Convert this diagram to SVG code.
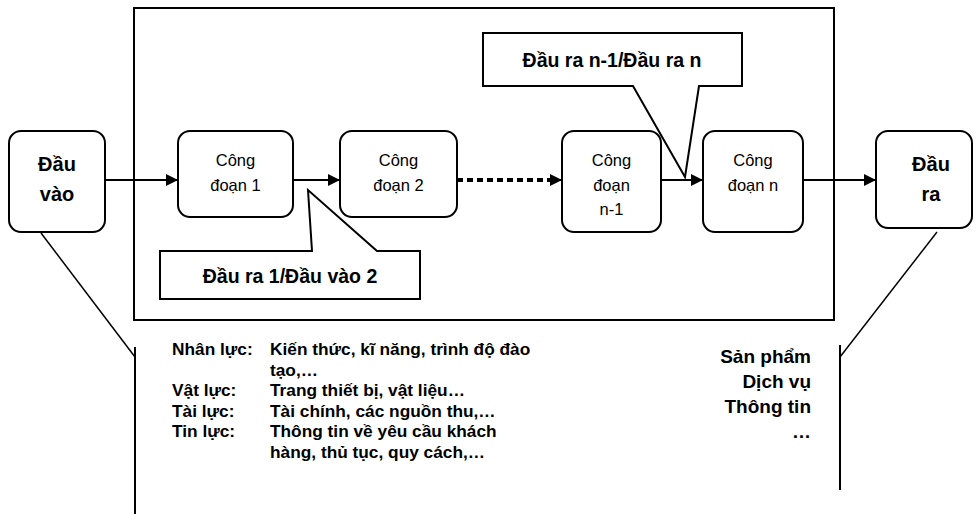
<svg xmlns="http://www.w3.org/2000/svg" width="976" height="514" viewBox="0 0 976 514">
<defs>
<marker id="ah" viewBox="0 0 12 12" refX="12" refY="6" markerWidth="12" markerHeight="12" markerUnits="userSpaceOnUse" orient="auto">
<path d="M0,0 L12,6 L0,12 Z" fill="#000"/>
</marker>
<style>
.box{fill:#fff;stroke:#000;stroke-width:2}
.frame{fill:none;stroke:#000;stroke-width:2}
.ln{fill:none;stroke:#000;stroke-width:2}
.thin{fill:none;stroke:#000;stroke-width:1.5}
.t{font-family:"Liberation Sans",Arial,sans-serif;fill:#000}
.big{font-size:20px;font-weight:bold;text-anchor:middle}
.step{font-size:16.5px;text-anchor:middle}
.call{font-size:19.5px;font-weight:bold;text-anchor:middle}
.list{font-size:17.3px;font-weight:bold}
.out{font-size:19px;font-weight:bold;text-anchor:end}
</style>
</defs>
<rect id="frame" class="frame" x="134" y="8" width="700" height="312"/>
<g id="connectors">
<line class="ln" x1="105" y1="180" x2="178" y2="180" marker-end="url(#ah)"/>
<line class="ln" x1="293" y1="180" x2="340" y2="180" marker-end="url(#ah)"/>
<line x1="457" y1="180" x2="550" y2="180" stroke="#000" stroke-width="4" stroke-dasharray="6,4"/>
<line class="ln" x1="548" y1="180" x2="562" y2="180" marker-end="url(#ah)"/>
<line class="ln" x1="661" y1="180" x2="703" y2="180" marker-end="url(#ah)"/>
<line class="ln" x1="803" y1="180" x2="876" y2="180" marker-end="url(#ah)"/>
<polyline class="thin" points="41,233 135,357"/>
<line class="ln" x1="135" y1="347" x2="135" y2="514"/>
<polyline class="thin" points="937,232 840,357"/>
<line class="ln" x1="840" y1="345" x2="840" y2="490"/>
</g>
<g id="dau-vao">
<rect class="box" x="9" y="131" width="96" height="101" rx="12"/>
<text class="t big" x="57" y="171">Đầu</text>
<text class="t big" x="57" y="201">vào</text>
</g>
<g id="cong-doan-1">
<rect class="box" x="178" y="131" width="115" height="86" rx="12"/>
<text class="t step" x="235.5" y="166">Công</text>
<text class="t step" x="235.5" y="191">đoạn 1</text>
</g>
<g id="cong-doan-2">
<rect class="box" x="340" y="131" width="117" height="86" rx="12"/>
<text class="t step" x="398.5" y="166">Công</text>
<text class="t step" x="398.5" y="191">đoạn 2</text>
</g>
<g id="cong-doan-n-1">
<rect class="box" x="562" y="131" width="99" height="101" rx="12"/>
<text class="t step" x="611.5" y="166">Công</text>
<text class="t step" x="611.5" y="191">đoạn</text>
<text class="t step" x="611.5" y="215">n-1</text>
</g>
<g id="cong-doan-n">
<rect class="box" x="703" y="131" width="100" height="101" rx="12"/>
<text class="t step" x="753" y="166">Công</text>
<text class="t step" x="753" y="191">đoạn n</text>
</g>
<g id="dau-ra">
<rect class="box" x="876" y="131" width="96" height="97" rx="12"/>
<text class="t big" x="931" y="171">Đầu</text>
<text class="t big" x="931" y="201">ra</text>
</g>
<g id="callout-1">
<path class="box" d="M160,251 L312,251 L308,190 L377,251 L420,251 L420,299 L160,299 Z"/>
<text class="t call" x="290" y="283">Đầu ra 1/Đầu vào 2</text>
</g>
<g id="callout-2">
<path class="box" d="M483,33 L742,33 L742,86 L699,86 L685,177 L633,86 L483,86 Z"/>
<text class="t call" x="612" y="67">Đầu ra n-1/Đầu ra n</text>
</g>
<g id="inputs-list">
<text class="t list" x="172" y="355">Nhân lực:</text>
<text class="t list" x="270" y="355">Kiến thức, kĩ năng, trình độ đào</text>
<text class="t list" x="270" y="376">tạo,…</text>
<text class="t list" x="172" y="396">Vật lực:</text>
<text class="t list" x="270" y="396">Trang thiết bị, vật liệu…</text>
<text class="t list" x="172" y="417">Tài lực:</text>
<text class="t list" x="270" y="417">Tài chính, các nguồn thu,…</text>
<text class="t list" x="172" y="437">Tin lực:</text>
<text class="t list" x="270" y="437">Thông tin về yêu cầu khách</text>
<text class="t list" x="270" y="458">hàng, thủ tục, quy cách,…</text>
</g>
<g id="outputs-list">
<text class="t out" x="811" y="363">Sản phẩm</text>
<text class="t out" x="811" y="388">Dịch vụ</text>
<text class="t out" x="811" y="413">Thông tin</text>
<text class="t out" x="811" y="438">…</text>
</g>
</svg>
